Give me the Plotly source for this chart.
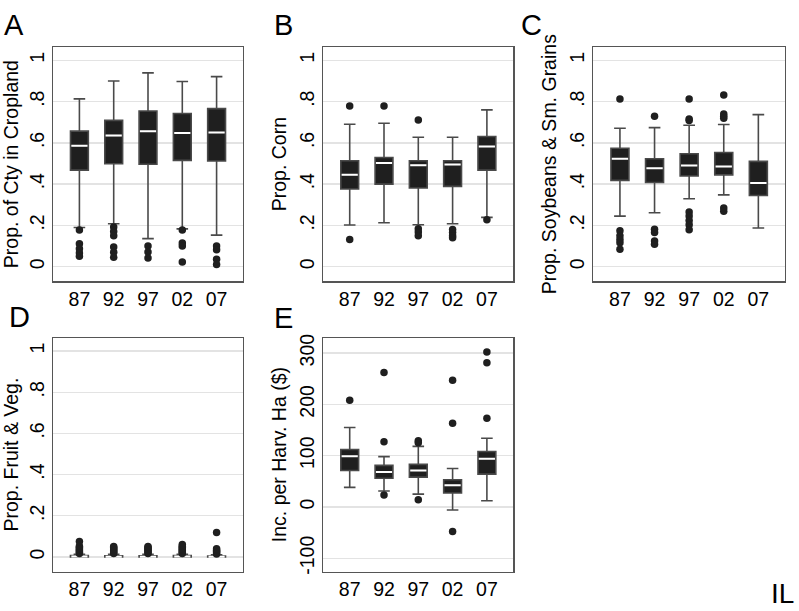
import plotly.graph_objects as go

years = ["87", "92", "97", "02", "07"]
pos = [1, 2, 3, 4, 5]

# A: Prop. of county in cropland
crop_low = [0.190, 0.208, 0.136, 0.183, 0.153]
crop_q1 = [0.468, 0.499, 0.496, 0.515, 0.512]
crop_med = [0.586, 0.635, 0.656, 0.648, 0.650]
crop_q3 = [0.657, 0.709, 0.754, 0.742, 0.766]
crop_high = [0.813, 0.900, 0.939, 0.897, 0.921]
crop_out = [[0.178, 0.111, 0.087, 0.066, 0.050],
            [0.192, 0.170, 0.150, 0.095, 0.070, 0.045],
            [0.100, 0.071, 0.042],
            [0.178, 0.115, 0.100, 0.023],
            [0.100, 0.082, 0.036, 0.011]]

# B: Prop. corn
corn_low = [0.202, 0.213, 0.203, 0.208, 0.239]
corn_q1 = [0.376, 0.400, 0.381, 0.389, 0.468]
corn_med = [0.445, 0.502, 0.492, 0.495, 0.582]
corn_q3 = [0.513, 0.529, 0.513, 0.513, 0.631]
corn_high = [0.690, 0.695, 0.627, 0.627, 0.760]
corn_out = [[0.779, 0.132], [0.779], [0.711, 0.184, 0.168, 0.150],
            [0.180, 0.165, 0.150, 0.140], [0.227]]

# C: Prop. soybeans & small grains
soy_low = [0.245, 0.261, 0.329, 0.348, 0.187]
soy_q1 = [0.418, 0.408, 0.439, 0.445, 0.345]
soy_med = [0.523, 0.477, 0.490, 0.485, 0.405]
soy_q3 = [0.574, 0.523, 0.547, 0.553, 0.510]
soy_high = [0.671, 0.674, 0.685, 0.689, 0.737]
soy_out = [[0.813, 0.174, 0.150, 0.132, 0.116, 0.084],
           [0.729, 0.181, 0.165, 0.124, 0.108],
           [0.813, 0.716, 0.708, 0.265, 0.245, 0.224, 0.203, 0.179],
           [0.832, 0.740, 0.729, 0.719, 0.284, 0.268],
           []]

# D: Prop. fruit & vegetables
fv_low = [0.000, 0.000, 0.000, 0.000, 0.000]
fv_q1 = [0.000, 0.000, 0.000, 0.000, 0.000]
fv_med = [0.002, 0.001, 0.001, 0.002, 0.001]
fv_q3 = [0.006, 0.005, 0.005, 0.006, 0.004]
fv_high = [0.013, 0.012, 0.012, 0.013, 0.010]
fv_out = [[0.016, 0.022, 0.028, 0.034, 0.040, 0.046, 0.052, 0.075],
          [0.016, 0.022, 0.028, 0.034, 0.040, 0.046, 0.050],
          [0.016, 0.022, 0.028, 0.034, 0.040, 0.046, 0.050],
          [0.016, 0.022, 0.028, 0.034, 0.040, 0.046, 0.052, 0.060],
          [0.014, 0.020, 0.026, 0.032, 0.040, 0.118]]

# E: Income per harvested ha ($)
inc_low = [38, 31, 25, -6, 12]
inc_q1 = [71, 56, 58, 27, 64]
inc_med = [99, 68, 71, 42, 94]
inc_q3 = [112, 81, 83, 53, 108]
inc_high = [155, 98, 118, 75, 134]
inc_out = [[208], [262, 127, 23], [129, 125, 14], [247, 163, -48], [302, 281, 173]]

prop_ticks = [0, 0.2, 0.4, 0.6, 0.8, 1]
prop_ticktext = ["0", ".2", ".4", ".6", ".8", "1"]
inc_ticks = [-100, 0, 100, 200, 300]
inc_ticktext = ["-100", "0", "100", "200", "300"]

W, H = 799, 611
FONT = "Liberation Sans, Arial, Helvetica, sans-serif"
BOXC = "#1f1f1f"
WHISK = "#4a4a4a"

panels = [
    dict(letter="A", title="Prop. of Cty in Cropland", low=crop_low, q1=crop_q1, med=crop_med,
         q3=crop_q3, high=crop_high, out=crop_out, px=(53, 243), py=(47, 281.3),
         yr=[-0.071, 1.0645], tv=prop_ticks, tt=prop_ticktext, lab=(13.5, 25)),
    dict(letter="B", title="Prop. Corn", low=corn_low, q1=corn_q1, med=corn_med,
         q3=corn_q3, high=corn_high, out=corn_out, px=(323.3, 513.3), py=(47, 281.3),
         yr=[-0.071, 1.0645], tv=prop_ticks, tt=prop_ticktext, lab=(283, 25)),
    dict(letter="C", title="Prop. Soybeans & Sm. Grains", low=soy_low, q1=soy_q1, med=soy_med,
         q3=soy_q3, high=soy_high, out=soy_out, px=(593.3, 785), py=(47, 281.3),
         yr=[-0.071, 1.0645], tv=prop_ticks, tt=prop_ticktext, lab=(531.5, 25)),
    dict(letter="D", title="Prop. Fruit & Veg.", low=fv_low, q1=fv_q1, med=fv_med,
         q3=fv_q3, high=fv_high, out=fv_out, px=(53, 243), py=(337.7, 571.5),
         yr=[-0.071, 1.0645], tv=prop_ticks, tt=prop_ticktext, lab=(19, 316.5)),
    dict(letter="E", title="Inc. per Harv. Ha ($)", low=inc_low, q1=inc_q1, med=inc_med,
         q3=inc_q3, high=inc_high, out=inc_out, px=(323.3, 513.3), py=(337.7, 571.5),
         yr=[-126, 330], tv=inc_ticks, tt=inc_ticktext, lab=(283.5, 317.5)),
]

fig = go.Figure()
annotations = []
BW = 0.52
MW = 0.235

for i, p in enumerate(panels, start=1):
    xa = "x" if i == 1 else f"x{i}"
    ya = "y" if i == 1 else f"y{i}"
    fig.add_trace(go.Box(
        x=pos, q1=p["q1"], median=p["med"], q3=p["q3"],
        lowerfence=p["low"], upperfence=p["high"],
        width=BW, whiskerwidth=0.65, fillcolor=BOXC,
        line=dict(color=WHISK, width=1.6), boxpoints=False,
        xaxis=xa, yaxis=ya, showlegend=False, hoverinfo="skip"))
    # white median lines
    mx, my = [], []
    for xp, m in zip(pos, p["med"]):
        mx += [xp - MW, xp + MW, None]
        my += [m, m, None]
    fig.add_trace(go.Scatter(x=mx, y=my, mode="lines",
                             line=dict(color="white", width=2),
                             xaxis=xa, yaxis=ya, showlegend=False, hoverinfo="skip"))
    # outliers
    ox, oy = [], []
    for xp, vals in zip(pos, p["out"]):
        for v in vals:
            ox.append(xp)
            oy.append(v)
    fig.add_trace(go.Scatter(x=ox, y=oy, mode="markers",
                             marker=dict(color=BOXC, size=7.5),
                             xaxis=xa, yaxis=ya, showlegend=False, hoverinfo="skip"))

    xd = [p["px"][0] / W, p["px"][1] / W]
    yd = [(H - p["py"][1]) / H, (H - p["py"][0]) / H]
    common = dict(showline=True, mirror=True, linecolor="#555555", linewidth=1.2,
                  zeroline=False, ticks="", automargin=False,
                  tickfont=dict(size=19.5, color="black", family=FONT))
    fig.update_layout(**{
        ("xaxis" if i == 1 else f"xaxis{i}"): dict(
            domain=xd, anchor=ya, range=[0.23, 5.77], tickmode="array",
            tickvals=pos, ticktext=years, showgrid=False, **common),
        ("yaxis" if i == 1 else f"yaxis{i}"): dict(
            domain=yd, anchor=xa, range=p["yr"], tickmode="array",
            tickvals=p["tv"], ticktext=p["tt"], tickangle=-90,
            showgrid=True, gridcolor="#e3e3e3", gridwidth=1.3,
            title=dict(text=p["title"], standoff=4,
                       font=dict(size=19.5, color="black", family=FONT)),
            **common),
    })
    annotations.append(dict(text=p["letter"], x=p["lab"][0] / W, y=(H - p["lab"][1]) / H,
                            xref="paper", yref="paper", xanchor="center", yanchor="middle",
                            showarrow=False, font=dict(size=29, color="black", family=FONT)))

annotations.append(dict(text="IL", x=782 / W, y=(H - 593) / H, xref="paper", yref="paper",
                        xanchor="center", yanchor="middle", showarrow=False,
                        font=dict(size=28, color="black", family=FONT)))

fig.update_layout(width=W, height=H, margin=dict(l=0, r=0, t=0, b=0),
                  paper_bgcolor="white", plot_bgcolor="white",
                  annotations=annotations, font=dict(family=FONT))

fig.write_html("out.html",
               config=dict(displayModeBar=False, staticPlot=True),
               post_script="document.body.style.margin='0px';"
                           "document.body.style.overflow='hidden';")
